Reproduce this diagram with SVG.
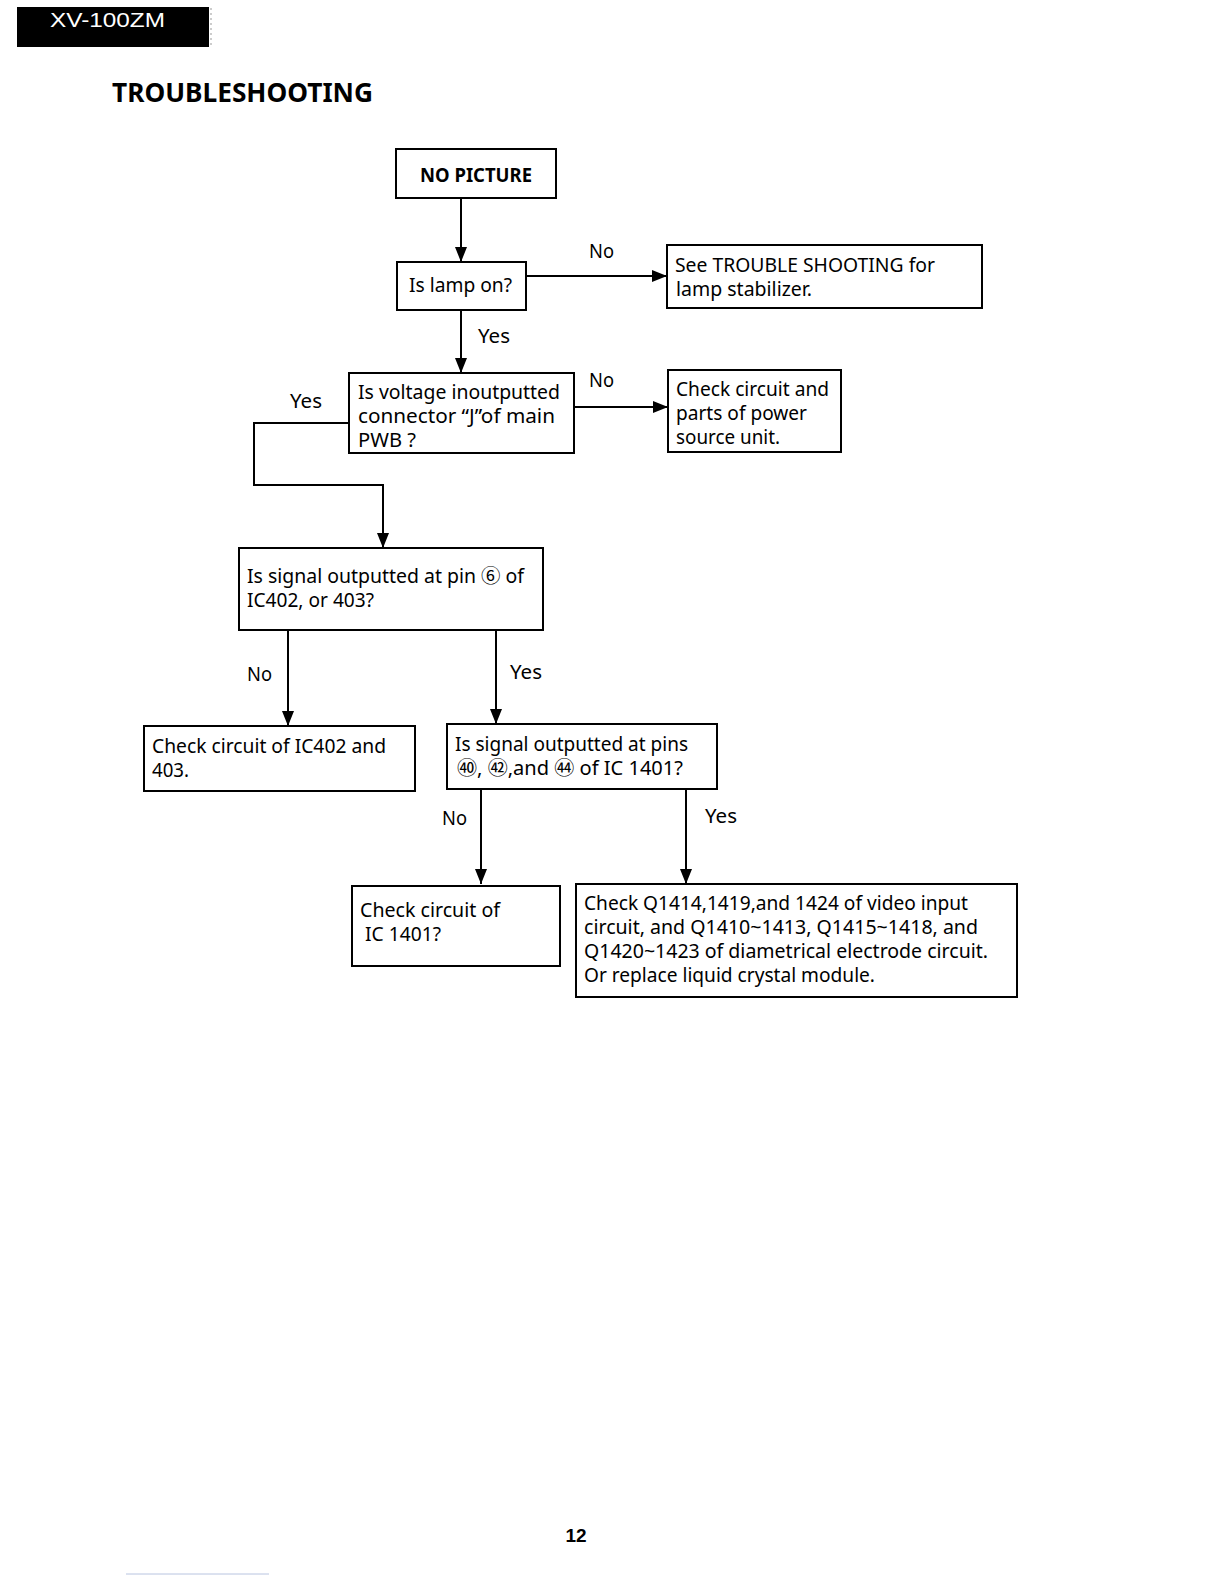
<svg xmlns="http://www.w3.org/2000/svg" width="1224" height="1584" viewBox="0 0 1224 1584">
<style>
.box{fill:#fff;stroke:#000;stroke-width:2}
.t{font-family:"Noto Sans","Liberation Sans","Noto Sans CJK JP",sans-serif;font-size:19px;fill:#000}
.b{font-weight:bold}
.c{fill:none;stroke:#000;stroke-width:2}
</style>
<defs>
<marker id="ah" markerUnits="userSpaceOnUse" markerWidth="15" markerHeight="12" refX="15" refY="6" orient="auto">
<path d="M0,0 L15,6 L0,12 z" fill="#000"/>
</marker>
</defs>
<rect width="1224" height="1584" fill="#fff"/>
<g id="header">
<rect x="17" y="7" width="192" height="40" fill="#000"/>
<line x1="211" y1="8" x2="211" y2="46" stroke="#999" stroke-width="1" stroke-dasharray="2,3"/>
<text x="50" y="27" class="t" style="font-family:'Liberation Sans',sans-serif;font-size:21px;fill:#fff" textLength="115" lengthAdjust="spacingAndGlyphs">XV-100ZM</text>
<text x="112" y="102" class="t b" style="font-size:26px" textLength="261" lengthAdjust="spacingAndGlyphs">TROUBLESHOOTING</text>
</g>
<g id="connectors">
<path class="c" d="M461,198 V262" marker-end="url(#ah)"/>
<path class="c" d="M526,276 H667" marker-end="url(#ah)"/>
<path class="c" d="M461,310 V373" marker-end="url(#ah)"/>
<path class="c" d="M574,407 H668" marker-end="url(#ah)"/>
<path class="c" d="M349,423 H254 V485 H383 V548" marker-end="url(#ah)"/>
<path class="c" d="M288,630 V726" marker-end="url(#ah)"/>
<path class="c" d="M496,630 V724" marker-end="url(#ah)"/>
<path class="c" d="M481,789 V884" marker-end="url(#ah)"/>
<path class="c" d="M686,789 V884" marker-end="url(#ah)"/>
<text x="589" y="258" class="t" textLength="25" lengthAdjust="spacingAndGlyphs">No</text>
<text x="478" y="343" class="t" textLength="32" lengthAdjust="spacingAndGlyphs">Yes</text>
<text x="589" y="387" class="t" textLength="25" lengthAdjust="spacingAndGlyphs">No</text>
<text x="290" y="408" class="t" textLength="32" lengthAdjust="spacingAndGlyphs">Yes</text>
<text x="247" y="681" class="t" textLength="25" lengthAdjust="spacingAndGlyphs">No</text>
<text x="510" y="679" class="t" textLength="32" lengthAdjust="spacingAndGlyphs">Yes</text>
<text x="442" y="825" class="t" textLength="25" lengthAdjust="spacingAndGlyphs">No</text>
<text x="705" y="823" class="t" textLength="32" lengthAdjust="spacingAndGlyphs">Yes</text>
</g>
<g id="n-nopicture">
<rect class="box" x="396" y="149" width="160" height="49"/>
<text x="420" y="182" class="t b" textLength="112" lengthAdjust="spacingAndGlyphs">NO PICTURE</text>
</g>
<g id="n-lamp">
<rect class="box" x="397" y="262" width="129" height="48"/>
<text x="409" y="292" class="t" textLength="103" lengthAdjust="spacingAndGlyphs">Is lamp on?</text>
</g>
<g id="n-see">
<rect class="box" x="667" y="245" width="315" height="63"/>
<text x="675" y="272" class="t" textLength="260" lengthAdjust="spacingAndGlyphs">See TROUBLE SHOOTING  for</text>
<text x="676" y="296" class="t" textLength="136" lengthAdjust="spacingAndGlyphs">lamp stabilizer.</text>
</g>
<g id="n-voltage">
<rect class="box" x="349" y="373" width="225" height="80"/>
<text x="358" y="399" class="t" textLength="202" lengthAdjust="spacingAndGlyphs">Is voltage inoutputted</text>
<text x="358" y="423" class="t" textLength="197" lengthAdjust="spacingAndGlyphs">connector “J”of main</text>
<text x="358" y="447" class="t" textLength="58" lengthAdjust="spacingAndGlyphs">PWB ?</text>
</g>
<g id="n-power">
<rect class="box" x="668" y="370" width="173" height="82"/>
<text x="676" y="396" class="t" textLength="153" lengthAdjust="spacingAndGlyphs">Check circuit and</text>
<text x="676" y="420" class="t" textLength="131" lengthAdjust="spacingAndGlyphs">parts of power</text>
<text x="676" y="444" class="t" textLength="104" lengthAdjust="spacingAndGlyphs">source unit.</text>
</g>
<g id="n-signal6">
<rect class="box" x="239" y="548" width="304" height="82"/>
<text x="247" y="583" class="t" textLength="277" lengthAdjust="spacingAndGlyphs">Is signal outputted at pin ⑥ of</text>
<text x="247" y="607" class="t" textLength="127" lengthAdjust="spacingAndGlyphs">IC402, or 403?</text>
</g>
<g id="n-ic402">
<rect class="box" x="144" y="726" width="271" height="65"/>
<text x="152" y="753" class="t" textLength="234" lengthAdjust="spacingAndGlyphs">Check circuit of IC402 and</text>
<text x="152" y="777" class="t" textLength="37" lengthAdjust="spacingAndGlyphs">403.</text>
</g>
<g id="n-pins">
<rect class="box" x="447" y="724" width="270" height="65"/>
<text x="455" y="751" class="t" textLength="233" lengthAdjust="spacingAndGlyphs">Is signal outputted at pins</text>
<text x="457" y="775" class="t" textLength="226" lengthAdjust="spacingAndGlyphs">㊵, ㊷,and ㊹ of IC 1401?</text>
</g>
<g id="n-ic1401">
<rect class="box" x="352" y="886" width="208" height="80"/>
<text x="360" y="917" class="t" textLength="140" lengthAdjust="spacingAndGlyphs">Check circuit of</text>
<text x="365" y="941" class="t" textLength="76" lengthAdjust="spacingAndGlyphs">IC 1401?</text>
</g>
<g id="n-final">
<rect class="box" x="576" y="884" width="441" height="113"/>
<text x="584" y="910" class="t" textLength="384" lengthAdjust="spacingAndGlyphs">Check Q1414,1419,and 1424 of video input</text>
<text x="584" y="934" class="t" textLength="394" lengthAdjust="spacingAndGlyphs">circuit, and Q1410~1413, Q1415~1418, and</text>
<text x="584" y="958" class="t" textLength="404" lengthAdjust="spacingAndGlyphs">Q1420~1423 of diametrical electrode circuit.</text>
<text x="584" y="982" class="t" textLength="291" lengthAdjust="spacingAndGlyphs">Or replace liquid crystal module.</text>
</g>
<g id="footer">
<text x="576" y="1542" class="t b" style="font-family:'Liberation Sans',sans-serif;font-size:19px" text-anchor="middle">12</text>
<line x1="126" y1="1574" x2="269" y2="1574" stroke="#b8c4e0" stroke-width="1"/>
</g>
</svg>
